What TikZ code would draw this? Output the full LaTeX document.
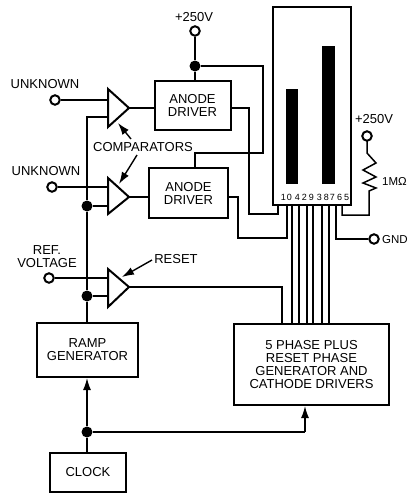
\documentclass[tikz,border=0pt]{standalone}
\usepackage{fontspec}
\setmainfont{Liberation Sans}
\usetikzlibrary{arrows.meta}
\tikzset{
 x=1pt,y=-1pt,
 wire/.style={line width=1.5pt,line join=miter},
 block/.style={draw,line width=2pt,inner sep=0pt,align=center,font=\fontsize{13}{13}\selectfont},
 lab/.style={inner sep=0pt,align=center,font=\fontsize{13}{13}\selectfont},
 term/.style={circle,draw,line width=2pt,fill=white,minimum size=9.5pt,inner sep=0pt},
 dotn/.style={circle,fill=black,minimum size=11pt,inner sep=0pt},
 comp/.style={draw,line width=2pt,line join=miter},
 tiparrow/.style={-{Latex[length=12pt,width=8pt]},line width=1.4pt},
}
\begin{document}
\begin{tikzpicture}
\useasboundingbox (0,0) rectangle (409,493);
% blocks
\node[block,minimum width=76pt,minimum height=49pt] (ad1) at (192.5,105.5) {ANODE\\DRIVER};
\node[block,minimum width=79pt,minimum height=50pt] (ad2) at (188.5,193) {ANODE\\DRIVER};
\node[block,minimum width=101pt,minimum height=54pt] (ramp) at (87.5,350) {RAMP\\GENERATOR};
\node[block,minimum width=76pt,minimum height=39pt] (clock) at (88,472.5) {CLOCK};
\node[block,minimum width=155pt,minimum height=81pt] (phase) at (311.5,364.5) {5 PHASE PLUS\\RESET PHASE\\GENERATOR AND\\CATHODE DRIVERS};
\node[draw,line width=2.4pt,minimum width=78pt,minimum height=198pt,inner sep=0pt] (tube) at (312,106) {};
% bars
\node[fill=black,minimum width=12pt,minimum height=95pt,inner sep=0pt] (bar1) at (292,136.5) {};
\node[fill=black,minimum width=13pt,minimum height=138pt,inner sep=0pt] (bar2) at (328.5,115) {};
\node[lab,font=\fontsize{9}{9}\selectfont] (digits) at (315,197) {1\kern1pt 0\kern3pt 4\kern2pt 2\kern2pt 9\kern3pt 3\kern2pt 8\kern1pt 7\kern2pt 6\kern2pt 5};
% coordinates
\coordinate (c1t) at (108,89); \coordinate (c1b) at (108,127); \coordinate (c1o) at (129,108);
\coordinate (c2t) at (108,178); \coordinate (c2b) at (108,214); \coordinate (c2o) at (129,197);
\coordinate (c3t) at (108,269); \coordinate (c3b) at (108,307); \coordinate (c3o) at (129,287);
% terminals
\node[term] (u1) at (55,100) {};
\node[term] (u2) at (52,187) {};
\node[term] (ref) at (49,278) {};
\node[term] (vp) at (195,31) {};
\node[term] (vr) at (367,136) {};
\node[term] (gnd) at (374,239) {};
\node[dotn] (d1) at (195,66) {};
\node[dotn] (d2) at (87,206) {};
\node[dotn] (d3) at (87,296) {};
\node[dotn] (d4) at (87,432) {};
% wires
\draw[wire] (u1) -- (108,100);
\draw[wire] (u2) -- (108,187);
\draw[wire] (ref) -- (108,278);
\draw[wire] (108,117) -- (87,117) -- (d2) -- (d3) -- (87,323);
\draw[wire] (d2) -- (108,206);
\draw[wire] (d3) -- (108,296);
\draw[wire] (c1o) -- (155,108);
\draw[wire] (c2o) -- (149,197);
\draw[wire] (c3o) -- (282,287) -- (282,324);
\draw[wire] (vp) -- (d1) -- (195,81);
\draw[wire] (d1) -- (263,66) -- (263,153) -- (195,153) -- (195,168);
\draw[wire] (230,108) -- (249,108) -- (249,214) -- (278,214) -- (278,205);
\draw[wire] (228,197) -- (238,197) -- (238,238) -- (287,238) -- (287,205);
\foreach \xx in {292,299,307,313,322,329}
  \draw[wire] (\xx,205) -- (\xx,324);
\draw[wire] (336,205) -- (336,239) -- (gnd);
\draw[wire] (342,205) -- (342,215) -- (369,215) -- (369,191)
  -- (376,188) -- (363,183) -- (376,177) -- (363,170) -- (376,163) -- (367,153) -- (367,141) -- (vr);
\draw[tiparrow] (d4) -- (87,378);
\draw[wire] (clock.north -| d4) -- (d4);
\draw[wire] (d4) -- (305,432);
\draw[tiparrow] (305,432) -- (305,406);
% comparators
\draw[comp,fill=white] (c1t) -- (c1o) -- (c1b) -- cycle;
\draw[comp,fill=white] (c2t) -- (c2o) -- (c2b) -- cycle;
\draw[comp,fill=white] (c3t) -- (c3o) -- (c3b) -- cycle;
% labels
\node[lab] (lu1) at (45,84) {UNKNOWN};
\node[lab] (lu2) at (46,171) {UNKNOWN};
\node[lab] (lref) at (47,256.5) {REF.\\VOLTAGE};
\node[lab] (lcomp) at (143,147) {COMPARATORS};
\node[lab] (lreset) at (176,259) {RESET};
\node[lab] (lp) at (194,17) {+250V};
\node[lab] (lpr) at (374,119) {+250V};
\node[lab,anchor=west,font=\fontsize{11.5}{11.5}\selectfont] (lr) at (382,181) {1MΩ};
\node[lab,anchor=west,font=\fontsize{11.5}{11.5}\selectfont] (lg) at (382,240) {GND};
\draw[tiparrow] (131,139) -- (118,123);
\draw[tiparrow] (137,155) -- (119,184);
\draw[tiparrow] (152,260) -- (122,277);
\end{tikzpicture}
\end{document}
